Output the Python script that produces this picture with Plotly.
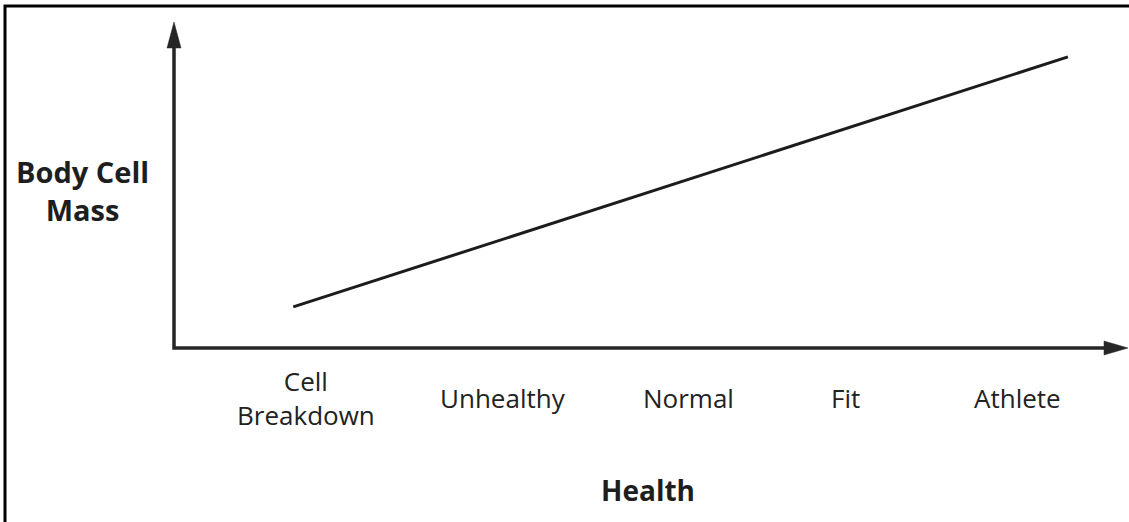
import plotly.graph_objects as go

# ---- data ----
health_levels = ["Cell<br>Breakdown", "Unhealthy", "Normal", "Fit", "Athlete"]
health_level_x = [13.8, 34.5, 53.9, 70.4, 88.4]      # position of each level along the health axis (0-100)
trend_health = [12.5, 93.7]                          # start / end of the trend line on the health axis
trend_body_cell_mass = [12.6, 89.3]                  # body cell mass at start / end (0-100)
x_title = "Health"
y_title = "Body Cell<br>Mass"

W, H = 1129, 522
ML, MR, MT, MB = 174, 1, 22, 174
PW, PH = W - ML - MR, H - MT - MB

axis_col = "#262626"
text_col = "#222222"
font_fam = "Open Sans, Noto Sans, sans-serif"

fig = go.Figure()
fig.add_trace(go.Scatter(
    x=trend_health, y=trend_body_cell_mass, mode="lines",
    line=dict(color="#1c1c1c", width=3), hoverinfo="skip", showlegend=False,
))

shapes = [
    # axes (L shape) anchored at the plot origin, in pixels
    dict(type="path", xref="paper", yref="paper", xsizemode="pixel", ysizemode="pixel",
         xanchor=0, yanchor=0, path=f"M0,300 L0,0 L{PW-24},0",
         line=dict(color=axis_col, width=3.5)),
    # y arrow head
    dict(type="path", xref="paper", yref="paper", xsizemode="pixel", ysizemode="pixel",
         xanchor=0, yanchor=0, path=f"M-7,300 L0,{PH} L7,300 Z",
         fillcolor=axis_col, line=dict(color=axis_col, width=0.5)),
    # x arrow head
    dict(type="path", xref="paper", yref="paper", xsizemode="pixel", ysizemode="pixel",
         xanchor=0, yanchor=0, path=f"M{PW-24},-7 L{PW},0 L{PW-24},7 Z",
         fillcolor=axis_col, line=dict(color=axis_col, width=0.5)),
    # frame (top + left edges)
    dict(type="path", xref="paper", yref="paper", xsizemode="pixel", ysizemode="pixel",
         xanchor=0, yanchor=1, path=f"M{5-ML},-520 L{5-ML},{MT-6} L{W-ML+10},{MT-6}",
         line=dict(color="#000000", width=3)),
]

annotations = []
for lab, xv in zip(health_levels, health_level_x):
    annotations.append(dict(
        x=xv, xref="x", y=(348 - 398) / PH, yref="paper", yanchor="middle", xanchor="center",
        text=lab, showarrow=False, align="center",
        font=dict(family=font_fam, size=26, color=text_col)))

annotations.append(dict(
    x=(648 - ML) / PW, xref="paper", y=(348 - 490) / PH, yref="paper",
    xanchor="center", yanchor="middle", text=f"<b>{x_title}</b>", showarrow=False,
    font=dict(family=font_fam, size=28, color="#1e1e1e")))
annotations.append(dict(
    x=(82 - ML) / PW, xref="paper", y=(348 - 190) / PH, yref="paper",
    xanchor="center", yanchor="middle", text=f"<b>{y_title}</b>", showarrow=False,
    align="center",
    font=dict(family=font_fam, size=29, color="#1e1e1e")))

fig.update_layout(
    width=W, height=H,
    margin=dict(l=ML, r=MR, t=MT, b=MB, pad=0),
    paper_bgcolor="white", plot_bgcolor="white",
    xaxis=dict(range=[0, 100], visible=False, fixedrange=True),
    yaxis=dict(range=[0, 100], visible=False, fixedrange=True),
    shapes=shapes, annotations=annotations,
    showlegend=False,
)

fig.write_html("out.html", config={"displayModeBar": False},
               post_script="document.body.style.margin='0px';document.body.style.overflow='hidden';")
